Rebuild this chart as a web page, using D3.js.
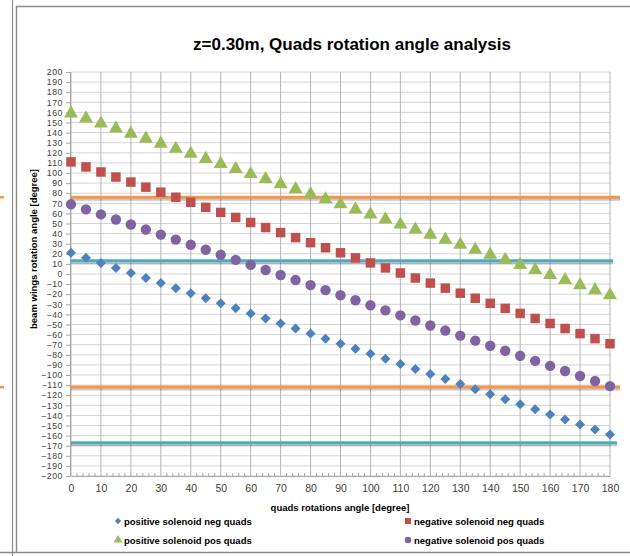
<!DOCTYPE html>
<html>
<head>
<meta charset="utf-8">
<script src="https://cdn.jsdelivr.net/npm/d3@7/dist/d3.min.js"></script>
<style>
  html, body { margin: 0; padding: 0; background: #fff; }
  svg { display: block; }
  text { font-family: "Liberation Sans", Arial, sans-serif; }
</style>
</head>
<body>
<svg id="chart" width="630" height="556"></svg>
<script>
// ---- data ----
const quadAngles = [0,5,10,15,20,25,30,35,40,45,50,55,60,65,70,75,80,85,90,95,100,105,110,115,120,125,130,135,140,145,150,155,160,165,170,175,180];
const posSolNegQuads = [21,16,11,6,1,-4,-9,-14,-19,-24,-29,-34,-39,-44,-49,-54,-59,-64,-69,-74,-79,-84,-89,-94,-99,-104,-109,-114,-119,-124,-129,-134,-139,-144,-149,-154,-159];
const negSolNegQuads = [111,106,101,96,91,86,81,76,71,66,61,56,51,46,41,36,31,26,21,16,11,6,1,-4,-9,-14,-19,-24,-29,-34,-39,-44,-49,-54,-59,-64,-69];
const posSolPosQuads = [159,154,149,144,139,134,129,124,119,114,109,104,99,94,89,84,79,74,69,64,59,54,49,44,39,34,29,24,19,14,9,4,-1,-6,-11,-16,-21];
const negSolPosQuads = [69,64,59,54,49,44,39,34,29,24,19,14,9,4,-1,-6,-11,-16,-21,-26,-31,-36,-41,-46,-51,-56,-61,-66,-71,-76,-81,-86,-91,-96,-101,-106,-111];
const seriesNames = ["positive solenoid neg quads","negative solenoid neg quads","positive solenoid pos quads","negative solenoid pos quads"];
const refLineValues = [76, 13, -112, -167];
const refLineKinds = ["orange","blue","orange","blue"];
const yTicks = d3.range(-200, 201, 10);
const xTicks = d3.range(0, 181, 10);
const xMinorTicks = d3.range(0, 181, 2);
const titleText = "z=0.30m, Quads rotation angle analysis";
const xTitle = "quads rotations angle [degree]";
const yTitle = "beam wings rotation angle [degree]";

// ---- setup ----
const svg = d3.select("#chart");
const x = d3.scaleLinear().domain([0, 180]).range([71, 610]);
const y = d3.scaleLinear().domain([-200, 200]).range([476, 72]);
const colors = { blue: "#4F81BD", red: "#C0504D", green: "#9BBB59", purple: "#8064A2" };
const refColors = { orange: "#F79646", blue: "#4BACC6" };

// frame decorations
svg.append("line").attr("x1", 12.5).attr("x2", 12.5).attr("y1", 0).attr("y2", 556).attr("stroke", "#8c8c8c").attr("stroke-width", 1.2);
svg.append("line").attr("x1", 16.5).attr("x2", 16.5).attr("y1", 6).attr("y2", 552).attr("stroke", "#8c8c8c").attr("stroke-width", 1.5);
svg.append("line").attr("x1", 16).attr("x2", 630).attr("y1", 6.5).attr("y2", 6.5).attr("stroke", "#8c8c8c").attr("stroke-width", 1.5);
svg.append("line").attr("x1", 0).attr("x2", 630).attr("y1", 552.5).attr("y2", 552.5).attr("stroke", "#8c8c8c").attr("stroke-width", 1.5);
// fragments from neighbouring panel
[76, -112].forEach(v => {
  svg.append("line").attr("x1", 0).attr("x2", 4).attr("y1", y(v)).attr("y2", y(v)).attr("stroke", refColors.orange).attr("stroke-width", 2.5);
});

// title
svg.append("text").attr("x", 352).attr("y", 50).attr("text-anchor", "middle")
  .attr("font-size", 17).attr("font-weight", "bold").attr("fill", "#000").text(titleText);

// gridlines
const g = svg.append("g");
g.selectAll(".hg").data(yTicks).join("line")
  .attr("x1", x(0)).attr("x2", x(180)).attr("y1", d => y(d)).attr("y2", d => y(d))
  .attr("stroke", "#d4d4d4").attr("stroke-width", 1);
g.selectAll(".vg").data(xTicks).join("line")
  .attr("x1", d => x(d)).attr("x2", d => x(d)).attr("y1", y(200)).attr("y2", y(-200))
  .attr("stroke", "#b3b3b3").attr("stroke-width", 1);

// axes
const yAxis = svg.append("g").attr("transform", `translate(${x(0) - 1},0)`)
  .call(d3.axisLeft(y).tickValues(yTicks).tickSize(4).tickPadding(3).tickFormat(d3.format("d")));
yAxis.select(".domain").attr("stroke", "#a6a6a6");
yAxis.selectAll(".tick line").attr("stroke", "#a6a6a6");
yAxis.selectAll("text").attr("font-size", 8.7).attr("letter-spacing", 0.6).attr("fill", "#404040").attr("font-family", "Liberation Sans, Arial, sans-serif");

const xAxis = svg.append("g").attr("transform", `translate(0,${y(-200)})`)
  .call(d3.axisBottom(x).tickValues(xTicks).tickSize(0).tickPadding(9).tickFormat(d3.format("d")));
xAxis.select(".domain").attr("stroke", "#a6a6a6");
xAxis.selectAll("text").attr("font-size", 10.5).attr("fill", "#404040").attr("font-family", "Liberation Sans, Arial, sans-serif");
svg.append("g").selectAll("line").data(xMinorTicks.filter(d => d % 10 !== 0)).join("line")
  .attr("x1", d => x(d)).attr("x2", d => x(d)).attr("y1", y(-200)).attr("y2", y(-200) - 3)
  .attr("stroke", "#a6a6a6").attr("stroke-width", 1);

// axis titles
svg.append("text").attr("x", 340).attr("y", 511).attr("text-anchor", "middle")
  .attr("font-size", 9.5).attr("font-weight", "bold").attr("fill", "#000").text(xTitle);
svg.append("text").attr("transform", "translate(37,249) rotate(-90)").attr("text-anchor", "middle")
  .attr("font-size", 9.5).attr("font-weight", "bold").attr("fill", "#000").text(yTitle);

// reference lines (with shadow)
const refG = svg.append("g");
refLineValues.forEach((v, i) => {
  const endX = [620, 613, 620, 617][i];
  refG.append("line").attr("x1", x(0)).attr("x2", endX).attr("y1", y(v) + 2).attr("y2", y(v) + 2)
    .attr("stroke", "rgba(0,0,0,0.22)").attr("stroke-width", 3);
  refG.append("line").attr("x1", x(0)).attr("x2", endX).attr("y1", y(v)).attr("y2", y(v))
    .attr("stroke", refColors[refLineKinds[i]]).attr("stroke-width", 3);
});

// series markers
const seriesData = [
  { name: seriesNames[0], values: posSolNegQuads, color: colors.blue, shape: d3.symbolSquare, size: 50, rot: 45 },
  { name: seriesNames[1], values: negSolNegQuads, color: colors.red, shape: d3.symbolSquare, size: 90, rot: 0 },
  { name: seriesNames[2], values: posSolPosQuads, color: colors.green, shape: d3.symbolTriangle, size: 85, rot: 0 },
  { name: seriesNames[3], values: negSolPosQuads, color: colors.purple, shape: d3.symbolCircle, size: 85, rot: 0 }
];
seriesData.forEach(s => {
  svg.append("g").selectAll("path").data(quadAngles.map((a, i) => [a, s.values[i]])).join("path")
    .attr("d", d3.symbol().type(s.shape).size(s.size))
    .attr("transform", d => `translate(${x(d[0])},${y(d[1])}) rotate(${s.rot})`)
    .attr("fill", s.color);
});

// legend
const legendPos = [[118, 521], [408, 521], [118, 540], [408, 540]];
seriesData.forEach((s, i) => {
  const [lx, ly] = legendPos[i];
  svg.append("path").attr("d", d3.symbol().type(s.shape).size(s.size * 0.4)())
    .attr("transform", `translate(${lx},${ly}) rotate(${s.rot})`).attr("fill", s.color);
  svg.append("text").attr("x", lx + 6).attr("y", ly + 3.5)
    .attr("font-size", 9.5).attr("font-weight", "bold").attr("fill", "#000").text(s.name);
});
</script>
</body>
</html>
